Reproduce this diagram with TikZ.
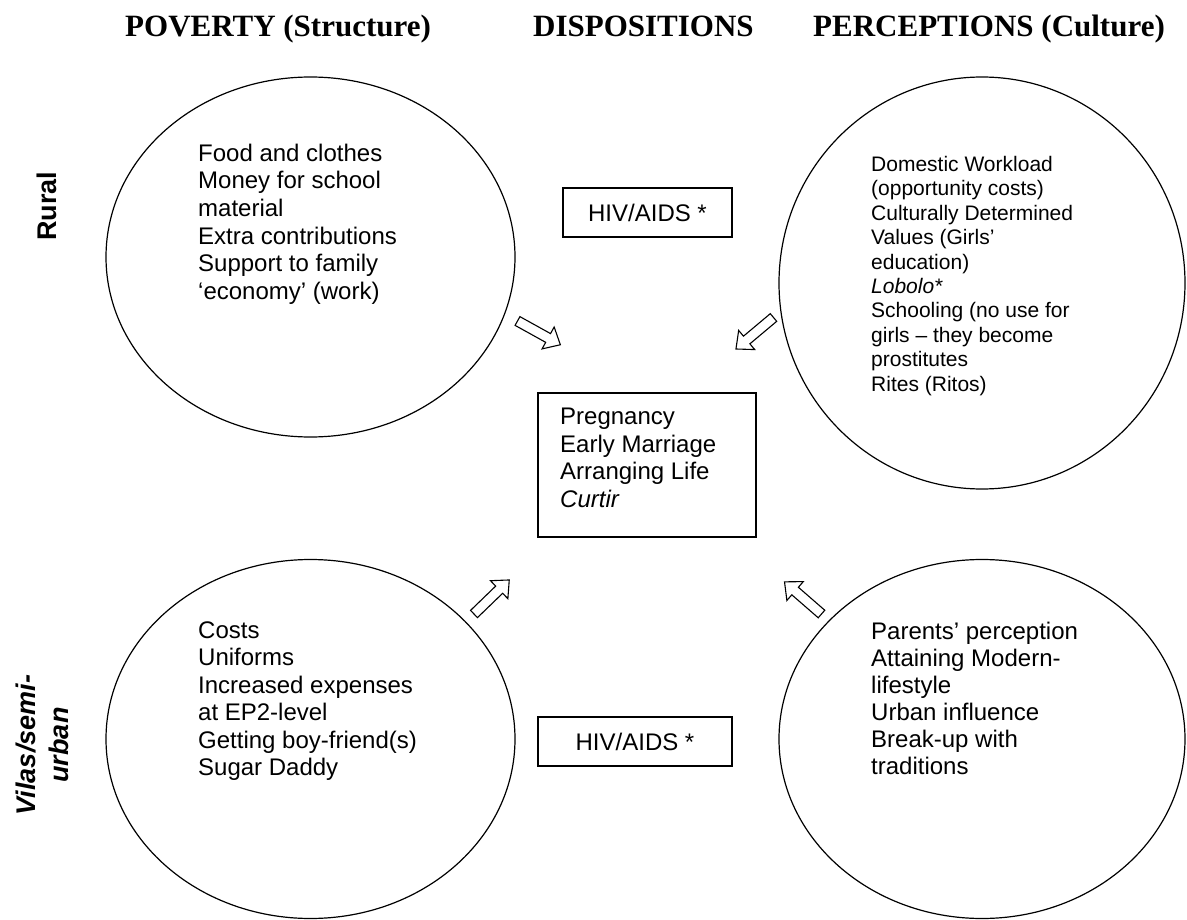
\documentclass[tikz,border=0pt]{standalone}
\usepackage{fontspec}
\setmainfont{Liberation Serif}
\setsansfont{Liberation Sans}
\usetikzlibrary{shapes.geometric}
\tikzset{
  ell/.style={draw, line width=1.2pt, ellipse, inner sep=0pt},
  boxnode/.style={draw, line width=1.2pt, rectangle, inner sep=0pt},
  body/.style={font=\sffamily\fontsize{24}{27.6}\selectfont, align=left, anchor=north west, inner sep=0pt},
  head/.style={font=\rmfamily\bfseries\fontsize{31}{36}\selectfont, anchor=base west, inner sep=0pt},
  side/.style={font=\sffamily\bfseries\fontsize{27}{33}\selectfont, rotate=90, align=center, inner sep=0pt},
  blockarrow/.pic={\draw[line width=1.1pt, line join=miter, fill=white]
     (0,-5) -- (35,-5) -- (35,-12.5) -- (49,0) -- (35,12.5) -- (35,5) -- (0,5) -- cycle;}
}
\begin{document}
\begin{tikzpicture}[x=1pt,y=-1pt]
\useasboundingbox (0,0) rectangle (1187,920);
\fill[white] (0,0) rectangle (1187,920);

% headers
\node[head] (h1) at (125,37) {POVERTY (Structure)};
\node[head] (h2) at (533,37) {DISPOSITIONS};
\node[head] (h3) at (813,37) {PERCEPTIONS (Culture)};

% side labels
\node[side] (rural) at (47,206) {Rural};
\node[side] (vilas) at (42,745) {\itshape Vilas/semi-\\\itshape urban};

% ellipses
\node[ell, minimum width=409pt, minimum height=360pt] (tl) at (310.5,257) {};
\node[ell, minimum width=406pt, minimum height=412pt] (tr) at (982,283) {};
\node[ell, minimum width=409pt, minimum height=359pt] (bl) at (310.5,739) {};
\node[ell, minimum width=406pt, minimum height=359pt] (br) at (982,739) {};

% ellipse texts
\node[body] (tltext) at (198,143.8) {Food and clothes\\Money for school\\material\\Extra contributions\\Support to family\\‘economy’ (work)};
\node[body, font=\sffamily\fontsize{21}{24.4}\selectfont] (trtext) at (871,156) {Domestic Workload\\(opportunity costs)\\Culturally Determined\\Values (Girls’\\education)\\\textit{Lobolo*}\\Schooling (no use for\\girls – they become\\prostitutes\\Rites (Ritos)};
\node[body, font=\sffamily\fontsize{24}{27.5}\selectfont] (bltext) at (198,621.5) {Costs\\Uniforms\\Increased expenses\\at EP2-level\\Getting boy-friend(s)\\Sugar Daddy};
\node[body, font=\sffamily\fontsize{24}{27.1}\selectfont] (brtext) at (871,621.8) {Parents’ perception\\Attaining Modern-\\lifestyle\\Urban influence\\Break-up with\\traditions};

% central boxes
\node[boxnode, minimum width=218pt, minimum height=144pt] (disp) at (647,465) {};
\node[body] (disptext) at (560,407.8) {Pregnancy\\Early Marriage\\Arranging Life\\\textit{Curtir}};

\node[boxnode, minimum width=169pt, minimum height=49pt, font=\sffamily\fontsize{24}{28}\selectfont] (hivtop) at (647.5,212.5) {HIV/AIDS *};
\node[boxnode, minimum width=194pt, minimum height=49pt, font=\sffamily\fontsize{24}{28}\selectfont] (hivbot) at (635,741.5) {HIV/AIDS *};

% block arrows
\coordinate (a1) at (517.5,321);
\coordinate (a2) at (773.5,317.5);
\coordinate (a3) at (474,614);
\coordinate (a4) at (821.5,614);
\pic[rotate=-29] at (a1) {blockarrow};
\pic[rotate=-140] at (a2) {blockarrow};
\pic[rotate=44] at (a3) {blockarrow};
\pic[rotate=139] at (a4) {blockarrow};
\end{tikzpicture}
\end{document}
